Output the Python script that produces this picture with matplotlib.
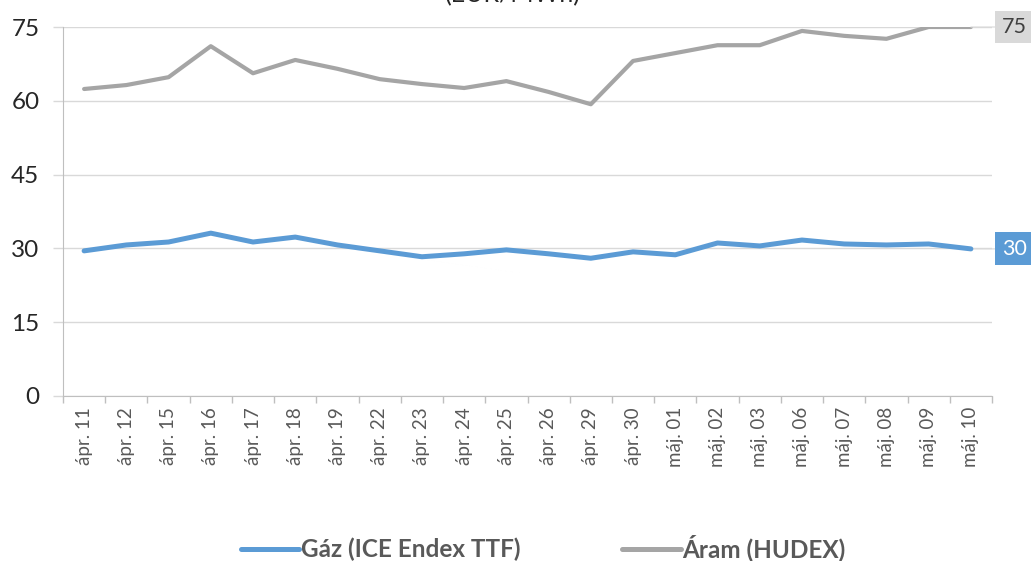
import matplotlib
matplotlib.use("Agg")
import matplotlib.pyplot as plt

categories = ["ápr. 11", "ápr. 12", "ápr. 15", "ápr. 16", "ápr. 17", "ápr. 18", "ápr. 19",
              "ápr. 22", "ápr. 23", "ápr. 24", "ápr. 25", "ápr. 26", "ápr. 29", "ápr. 30",
              "máj. 01", "máj. 02", "máj. 03", "máj. 06", "máj. 07", "máj. 08", "máj. 09", "máj. 10"]
gaz = [29.5, 30.7, 31.3, 33.1, 31.3, 32.3, 30.7, 29.5, 28.3, 28.9, 29.7, 28.9, 28.0, 29.3,
       28.7, 31.1, 30.5, 31.7, 30.9, 30.7, 30.9, 29.9]
aram = [62.4, 63.2, 64.8, 71.1, 65.6, 68.3, 66.5, 64.4, 63.4, 62.6, 64.0, 61.8, 59.3, 68.1,
        69.7, 71.3, 71.3, 74.2, 73.2, 72.6, 75.0, 75.0]
yticks = [0, 15, 30, 45, 60, 75]
title = "(EUR/MWh)"
gaz_label = "Gáz (ICE Endex TTF)"
aram_label = "Áram (HUDEX)"

plt.rcParams['font.family'] = ['Lato', 'DejaVu Sans']

fig = plt.figure(figsize=(10.31, 5.61), dpi=100)
ax = fig.add_axes([63/1031, 1-396/561, (992-63)/1031, (396-27)/561])

x = list(range(len(categories)))
ax.plot(x, aram, color="#a5a5a5", lw=3.0, solid_capstyle="round", label=aram_label, zorder=3)
ax.plot(x, gaz, color="#5b9bd5", lw=3.6, solid_capstyle="round", label=gaz_label, zorder=4)

ax.set_xlim(-0.5, len(categories) - 0.5)
ax.set_ylim(0, 75)
ax.set_yticks(yticks)
ax.set_yticklabels([str(v) for v in yticks], fontsize=17.5, color="#262626")
ax.yaxis.grid(True, color="#d9d9d9", lw=1)
ax.set_axisbelow(True)
ax.tick_params(axis='y', length=7, color="#d9d9d9", width=1, pad=10)

ax.set_xticks(x)
ax.set_xticklabels(categories, rotation=90, fontsize=13.5, color="#595959")
ax.set_xticks([i - 0.5 for i in range(len(categories) + 1)], minor=True)
ax.tick_params(axis='x', which='major', length=0, pad=8)
ax.tick_params(axis='x', which='minor', length=5, color="#bfbfbf", width=1)

for s in ["top", "right"]:
    ax.spines[s].set_visible(False)
ax.spines["left"].set_color("#bfbfbf")
ax.spines["bottom"].set_color("#bfbfbf")

# end labels
last = len(categories) - 1
ax.annotate(f"{aram[-1]:.0f}", xy=(last, aram[-1]), xytext=(31, 0), textcoords="offset pixels",
            ha="left", va="center", fontsize=15.5, color="#404040", annotation_clip=False,
            bbox=dict(boxstyle="square,pad=0.3", fc="#d9d9d9", ec="none"),
            arrowprops=dict(arrowstyle="-", color="#d9d9d9", lw=0.8, shrinkA=0, shrinkB=0))
ax.annotate(f"{gaz[-1]:.0f}", xy=(last, gaz[-1]), xytext=(31, 0), textcoords="offset pixels",
            ha="left", va="center", fontsize=15.5, color="white", annotation_clip=False,
            bbox=dict(boxstyle="square,pad=0.3", fc="#5b9bd5", ec="none"),
            arrowprops=dict(arrowstyle="-", color="#d9d9d9", lw=0.8, shrinkA=0, shrinkB=0))

fig.text(513/1031, 1 - 2/561, title, ha="center", va="baseline", fontsize=18, color="#262626")

handles, labels = ax.get_legend_handles_labels()
leg = fig.legend(handles[::-1], labels[::-1], loc="center", bbox_to_anchor=(543/1031, 1 - 548/561),
                 ncol=2, frameon=False, handlelength=2.4, handletextpad=0.05,
                 columnspacing=4.2, prop={'weight': 'bold', 'size': 17.5})
for t in leg.get_texts():
    t.set_color("#595959")
for h in leg.legend_handles:
    h.set_linewidth(3.6)

fig.savefig("out.png", dpi=100)
